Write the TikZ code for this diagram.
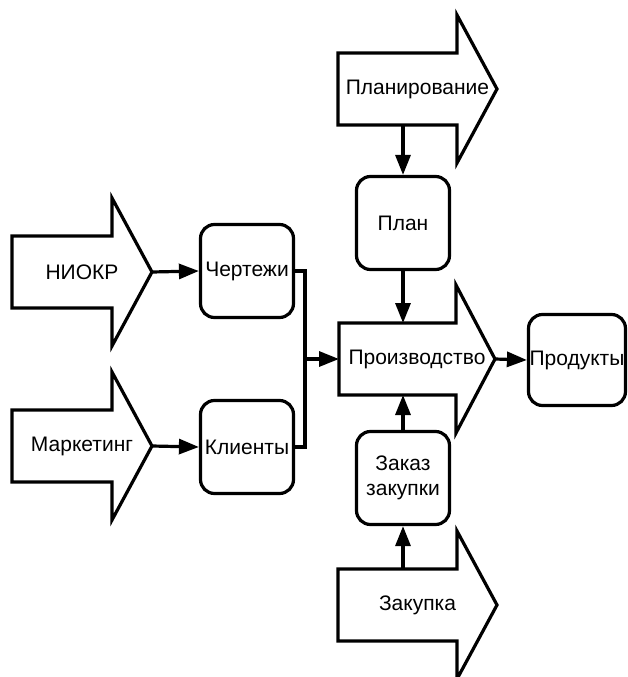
\documentclass[tikz,border=0pt]{standalone}
\usepackage{fontspec}
\setmainfont{Liberation Sans}
\usetikzlibrary{arrows.meta}
\tikzset{
  bigarrow/.style={draw=black, line width=3.2pt, fill=white, line join=miter},
  box/.style={draw=black, line width=3.2pt, rounded corners=14pt, fill=white,
    minimum width=93pt, minimum height=93pt, inner sep=1pt, align=center,
    font=\fontsize{21pt}{25pt}\selectfont},
  lbl/.style={font=\fontsize{21pt}{25pt}\selectfont, inner sep=0pt},
  conn/.style={line width=3.2pt, -{Triangle[length=20pt,width=15pt]}},
  plain/.style={line width=3.2pt}
}
\newcommand\bigarr[6]{%
  \draw[bigarrow] (#2,#3-36) -- (#4,#3-36) -- (#4,#3-74) -- (#5,#3) -- (#4,#3+74) -- (#4,#3+36) -- (#2,#3+36) -- cycle;
  \coordinate (#1-tip) at (#5,#3);
  \coordinate (#1-top) at (403,#3-36);
  \coordinate (#1-bot) at (403,#3+36);
  \coordinate (#1-left) at (#2,#3);
  \node[lbl] (#1) at ({(#2+#5)/2},#3) {#6};
}
\begin{document}
\begin{tikzpicture}[x=1pt,y=-1pt]
\useasboundingbox (0,0) rectangle (628,677);
% big arrows
\bigarr{niokr}{12}{272}{112}{152}{НИОКР}
\bigarr{mark}{12}{446}{112}{152}{Маркетинг}
\bigarr{plan}{338}{89}{457}{497}{Планирование}
\bigarr{prod}{339}{359}{456}{495}{Производство}
\bigarr{zak}{338}{605}{457}{497}{Закупка}
% boxes
\node[box] (chert) at (247,271) {Чертежи};
\node[box] (klient) at (247,447) {Клиенты};
\node[box] (plbox) at (403,223) {План};
\node[box] (order) at (403,478) {Заказ\\закупки};
\node[box, minimum width=97pt, minimum height=91pt] (products) at (577,360) {Продукты};
% connectors
\coordinate (jx) at (305,359);
\draw[conn] (niokr-tip) -- (chert.west);
\draw[conn] (mark-tip) -- (klient.west);
\draw[plain] (chert.east) -- (jx |- chert.east) -- (jx |- klient.east) -- (klient.east);
\draw[conn] (jx) -- (prod-left);
\draw[conn] (plan-bot) -- (plbox.north);
\draw[conn] (plbox.south) -- (prod-top);
\draw[conn] (order.north) -- (prod-bot);
\draw[conn] (zak-top) -- (order.south);
\draw[conn] (prod-tip) -- (products.west);
\end{tikzpicture}
\end{document}
